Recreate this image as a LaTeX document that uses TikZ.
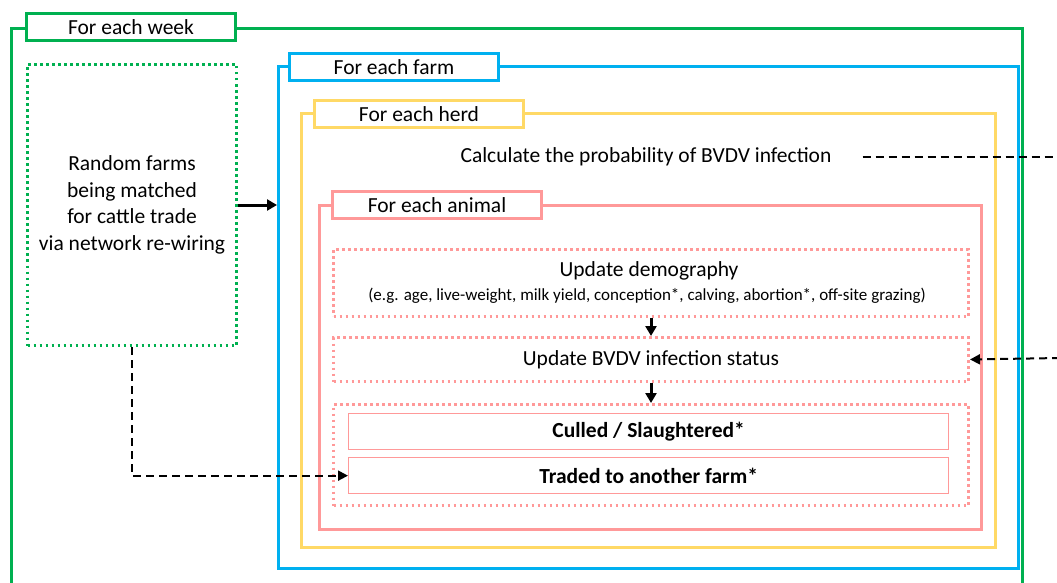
\documentclass[tikz,border=0pt]{standalone}
\usepackage{fontspec}
\setmainfont{Carlito}
\usetikzlibrary{arrows.meta}
\definecolor{cgreen}{RGB}{0,176,80}
\definecolor{cblue}{RGB}{0,176,240}
\definecolor{cyellow}{RGB}{255,217,102}
\definecolor{cpink}{RGB}{255,153,153}
\begin{document}
\begin{tikzpicture}[x=1pt,y=-1pt,
  frame/.style={draw=#1,line width=3pt,anchor=north west,inner sep=0pt},
  tag/.style={draw=#1,line width=3pt,fill=white,anchor=north west,inner sep=0pt,minimum width=209pt,minimum height=27pt,font=\fontsize{21.5}{23}\selectfont},
  dotbox/.style={draw=#1,line width=3pt,dash pattern=on 2.6pt off 3.4pt,anchor=north west,inner sep=0pt},
  thinbox/.style={draw=cpink,line width=1.3pt,anchor=north west,inner sep=0pt,minimum width=600pt,minimum height=36pt,font=\fontsize{21.5}{23}\selectfont\bfseries},
  flow/.style={-{Triangle[length=10pt,width=11pt]},line width=3pt},
  dashlink/.style={-{Triangle[length=10pt,width=10pt]},line width=2pt,dash pattern=on 8pt off 5pt},
  txt/.style={font=\fontsize{21.5}{26.5}\selectfont,align=center,inner sep=0pt}]
\useasboundingbox (0,0) rectangle (1057,583);
\clip (0,0) rectangle (1057,583);
\fill[white] (0,0) rectangle (1057,583);
% frames
\node[frame=cgreen,minimum width=1011pt,minimum height=600pt] (week) at (10,27) {};
\node[frame=cblue,minimum width=740pt,minimum height=502pt] (farm) at (277,65) {};
\node[frame=cyellow,minimum width=694pt,minimum height=434pt] (herd) at (300,112) {};
\node[frame=cpink,minimum width=662pt,minimum height=324pt] (animal) at (318,204) {};
% tags
\node[tag=cgreen] (weektag) at (25,12) {For each week};
\node[tag=cblue] (farmtag) at (288,52) {For each farm};
\node[tag=cyellow] (herdtag) at (313,99) {For each herd};
\node[tag=cpink] (animaltag) at (331,190) {For each animal};
% random farms box
\node[dotbox=cgreen,minimum width=209pt,minimum height=281pt] (rand) at (26,63) {};
\node[txt] (randtxt) at (rand.center) {Random farms\\being matched\\for cattle trade\\via network re-wiring};
% calculate
\node[txt] (calc) at (646,157) {Calculate the probability of BVDV infection};
% inner boxes
\node[dotbox=cpink,minimum width=635pt,minimum height=67pt] (demo) at (332,248) {};
\node[txt] (demot) at (649,271) {Update demography};
\node[txt,font=\fontsize{17}{19}\selectfont] (demos) at (647,296) {(e.g. age, live-weight, milk yield, conception*, calving, abortion*, off-site grazing)};
\node[dotbox=cpink,minimum width=635pt,minimum height=44pt] (status) at (332,336) {};
\node[txt] (statust) at (status.center) {Update BVDV infection status};
\node[dotbox=cpink,minimum width=635pt,minimum height=101pt] (fate) at (332,403) {};
\node[thinbox] (culled) at (348,413) {Culled / Slaughtered*};
\node[thinbox] (traded) at (348,457) {Traded to another farm*};
% connectors
\draw[flow] (rand.east) -- (rand.east -| farm.west);
\draw[flow] (demo.south) -- (status.north);
\draw[flow] (status.south) -- (fate.north);
\draw[dashlink] (rand.south) |- (traded.west);
\coordinate (outA) at (1057,157);
\coordinate (outB) at (1060,358);
\draw[line width=2pt,dash pattern=on 8pt off 5pt] ([xshift=31pt]calc.east) -- (outA);
\draw[dashlink] (outB) -- (status.east);
\end{tikzpicture}
\end{document}
